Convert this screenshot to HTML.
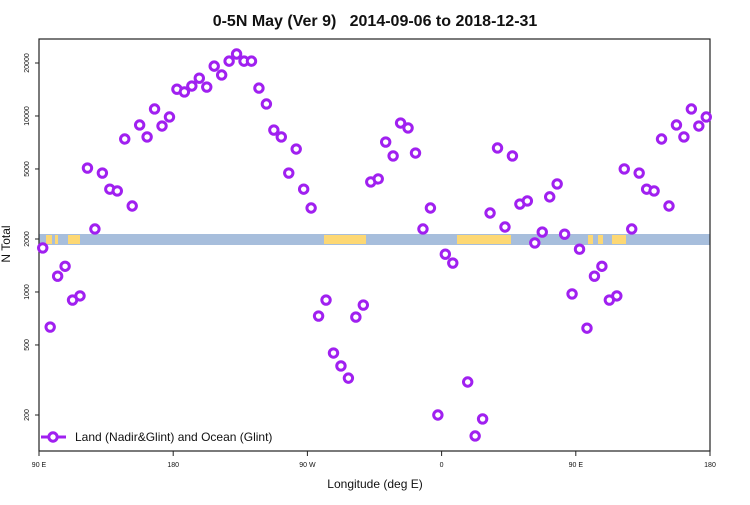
<!DOCTYPE html>
<html><head><meta charset="utf-8"><style>
body{margin:0;background:#fff}
text{font-family:"Liberation Sans",sans-serif}
</style></head><body>
<svg id="chart" width="750" height="500" xmlns="http://www.w3.org/2000/svg">
<rect width="750" height="500" fill="#fff"/>
<text x="375" y="26" text-anchor="middle" font-size="16" font-weight="bold" fill="#111" xml:space="preserve" style="white-space:pre">0-5N May (Ver 9)   2014-09-06 to 2018-12-31</text>
<g id="band"></g>
<g id="axes"></g>
<g id="pts"></g>
<text transform="translate(10,244) rotate(-90)" text-anchor="middle" font-size="12" fill="#111">N Total</text>
<text x="375" y="488" text-anchor="middle" font-size="12" fill="#111">Longitude (deg E)</text>
<g>
<line x1="41" y1="437" x2="66" y2="437" stroke="#a020f0" stroke-width="3"/>
<circle cx="53" cy="437" r="4.2" fill="#fff" stroke="#a020f0" stroke-width="3"/>
<text x="75" y="441" font-size="12" fill="#111">Land (Nadir&amp;Glint) and Ocean (Glint)</text>
</g>
</svg>
<script>
const lon=[92.5,97.5,102.5,107.5,112.5,117.5,122.5,127.5,132.5,137.5,142.5,147.5,152.5,157.5,162.5,167.5,172.5,177.5,182.5,187.5,192.5,197.5,202.5,207.5,212.5,217.5,222.5,227.5,232.5,237.5,242.5,247.5,252.5,257.5,262.5,267.5,272.5,277.5,282.5,287.5,292.5,297.5,302.5,307.5,312.5,317.5,322.5,327.5,332.5,337.5,342.5,347.5,352.5,357.5,362.5,367.5,377.5,382.5,387.5,392.5,397.5,402.5,407.5,412.5,417.5,422.5,427.5,432.5,437.5,442.5,447.5,452.5,457.5,462.5,467.5,472.5,477.5,482.5,487.5,492.5,497.5,502.5,507.5,512.5,517.5,522.5,527.5,532.5,537.5];
const nTotal=[1780,632,1230,1400,900,950,5060,2280,4740,3840,3750,7400,3080,8890,7600,10960,8770,9870,14200,13700,14800,16400,14600,19200,17100,20500,22500,20500,20500,14400,11700,8320,7600,4740,6490,3840,3000,730,900,450,380,324,720,843,4220,4390,7110,5930,9120,8550,6160,2280,3000,200,1640,1460,308,152,190,2810,6580,2340,5930,3160,3290,1900,2190,3470,4110,2130,975,1750,623,1230,1400,900,950,5000,2280,4740,3840,3750,7400,3080,8890,7600,10960,8770,9870];
const xTickVals=[90,180,270,360,450,540];
const xTickLabels=["90 E","180","90 W","0","90 E","180"];
const yTickVals=[200,500,1000,2000,5000,10000,20000];
const L=39,R=710,T=39,B=451;
const X=v=>L+(v-90)/450*(R-L);
const Y=v=>239-176*(Math.log10(v)-Math.log10(2000));
const NS="http://www.w3.org/2000/svg";
function mk(tag,attrs,parent){const e=document.createElementNS(NS,tag);for(const k in attrs)e.setAttribute(k,attrs[k]);parent.appendChild(e);return e;}
const band=document.getElementById('band');
mk('rect',{x:L,y:234,width:R-L,height:11,fill:'#a7bedc'},band);
[[46,52],[55,58],[68,80],[324,366],[457,511],[588,593],[598,603],[612,626]].forEach(s=>{
 mk('rect',{x:s[0],y:235,width:s[1]-s[0],height:9,fill:'#fdd874'},band);});
const ax=document.getElementById('axes');
mk('rect',{x:L,y:T,width:R-L,height:B-T,fill:'none',stroke:'#222','stroke-width':1.2},ax);
xTickVals.forEach((v,i)=>{
 const t=mk('line',{x1:X(v),x2:X(v),y1:B,y2:B+5,stroke:'#222'},ax);
 
 
 const tx=mk('text',{x:X(v),y:467,'text-anchor':'middle','font-size':7,fill:'#111'},ax);
 tx.textContent=xTickLabels[i];
 
 
});
yTickVals.forEach(v=>{
 const t=mk('line',{x1:L-4,x2:L,y1:Y(v),y2:Y(v),stroke:'#222'},ax);
 
 
 const tx=mk('text',{transform:`translate(29,${Y(v)}) rotate(-90)`,'text-anchor':'middle','font-size':7,fill:'#111'},ax);
 tx.textContent=String(v);
 
 
});
const pts=document.getElementById('pts');
lon.forEach((v,i)=>{
 const c=mk('circle',{cx:X(v),cy:Y(nTotal[i]),r:4.2,fill:'#fff',stroke:'#a020f0','stroke-width':3},pts);
 
 
});
</script>
</body></html>
